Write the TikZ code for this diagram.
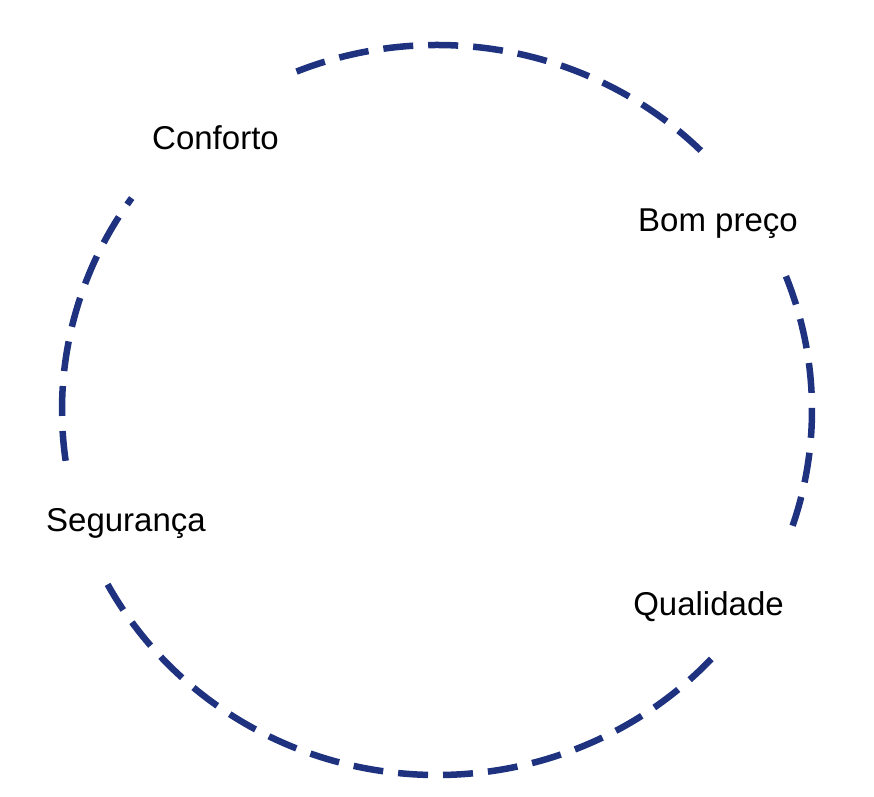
\documentclass[tikz,border=0pt]{standalone}
\usepackage{fontspec}
\setmainfont{Liberation Sans}
\usepackage{xcolor}
\usepackage{tikz}
\usetikzlibrary{positioning,calc}
\definecolor{ringblue}{RGB}{31,50,128}

\begin{document}
\begin{tikzpicture}[x=1pt, y=1pt,
        ring/.style={draw=ringblue, line width=6.5pt, dash pattern=on 30pt off 15pt},
        every node/.style={font=\fontsize{33}{40}\selectfont, inner sep=0pt, anchor=base}]
    \useasboundingbox (0,0) rectangle (874,796);
    \coordinate (c) at (437,386);
    % arcs of the ring, gaps left for the labels
    \foreach \a/\b in {112/44.5, 21.5/-18.5, -43/-152.5, 188/144.5}
        \draw[ring] ([shift={(\a:375 and 365)}]c) arc[start angle=\a, end angle=\b, x radius=375, y radius=365];
    \node (conforto) at (215.5,646) {Conforto};
    \node (preco) at (718,564) {Bom preço};
    \node (qualidade) at (708.5,181) {Qualidade};
    \node (seguranca) at (126,265) {Segurança};
\end{tikzpicture}
\end{document}
